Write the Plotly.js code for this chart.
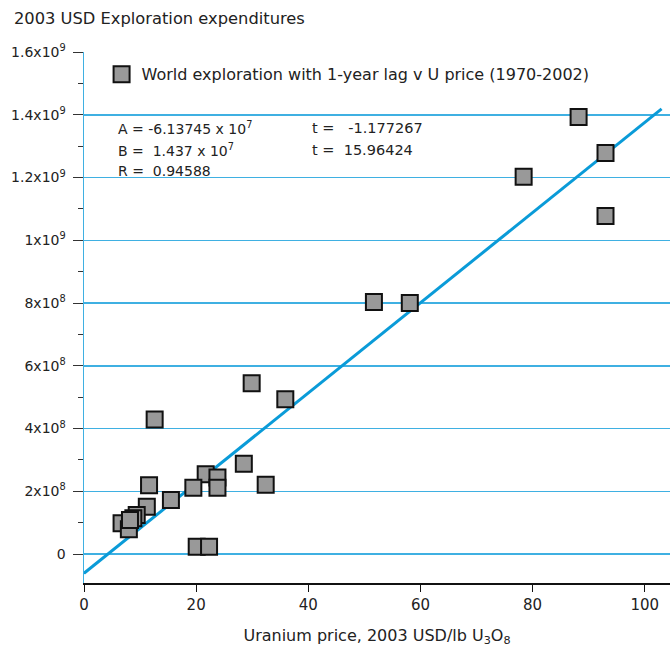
<!DOCTYPE html>
<html><head><meta charset="utf-8">
<script src="https://cdn.plot.ly/plotly-3.0.1.min.js"></script>
<style>html,body{margin:0;padding:0;background:#fff}#chart{width:670px;height:648px}</style>
</head><body><div id="chart"></div>
<script>
// Uranium price (2003 USD/lb U3O8), previous year
const uraniumPrice = [88.2, 93.0, 93.0, 78.4, 51.7, 58.1, 29.9, 35.9, 12.6, 28.5, 32.4, 21.7, 23.8, 23.8, 19.5, 15.5, 11.6, 11.2, 9.4, 8.8, 6.7, 8.0, 8.2, 20.1, 22.3];
// World exploration expenditures (2003 USD)
const explorationSpend = [1.393e9, 1.278e9, 1.077e9, 1.202e9, 0.803e9, 0.800e9, 0.544e9, 0.493e9, 0.429e9, 0.288e9, 0.221e9, 0.254e9, 0.244e9, 0.211e9, 0.211e9, 0.172e9, 0.219e9, 0.151e9, 0.124e9, 0.114e9, 0.098e9, 0.079e9, 0.108e9, 0.023e9, 0.023e9];
// Regression coefficients
const coefA = -6.13745e7;
const coefB = 1.437e7;
const fitX = [0, 103];
const fitY = fitX.map(x => coefA + coefB * x);
const yTickVals = [0, 2e8, 4e8, 6e8, 8e8, 1e9, 1.2e9, 1.4e9, 1.6e9];
const yTickText = ['0', '2x10<sup>8</sup>', '4x10<sup>8</sup>', '6x10<sup>8</sup>', '8x10<sup>8</sup>', '1x10<sup>9</sup>', '1.2x10<sup>9</sup>', '1.4x10<sup>9</sup>', '1.6x10<sup>9</sup>'];
const xTickVals = [0, 20, 40, 60, 80, 100];

const FONT = 'DejaVu Sans, sans-serif';
const BLUE = '#0a9bd8';
const GRID = '#3fb0e2';
const TXT = '#222';

const traces = [
  {x: fitX, y: fitY, mode: 'lines', line: {color: BLUE, width: 3}, showlegend: false, hoverinfo: 'skip'},
  {x: uraniumPrice, y: explorationSpend, mode: 'markers', name: 'World exploration with 1-year lag v U price (1970-2002)',
   marker: {symbol: 'square', size: 16, color: '#999999', line: {color: '#111111', width: 2}}}
];

const ann = (x, y, text, size) => ({xref: 'paper', yref: 'paper', x: x, y: y, xanchor: 'left', yanchor: 'middle', showarrow: false,
  text: text, font: {size: size, family: FONT, color: TXT}});

const layout = {
  width: 670, height: 648,
  margin: {l: 84, r: 0, t: 52, b: 65},
  paper_bgcolor: '#fff', plot_bgcolor: '#fff',
  font: {family: FONT, size: 14, color: TXT},
  showlegend: true,
  legend: {x: 0.03, y: 0.99, xanchor: 'left', yanchor: 'top', bgcolor: 'rgba(0,0,0,0)', font: {size: 16, family: FONT, color: TXT}},
  xaxis: {
    range: [0, 104.5], tickvals: xTickVals, showgrid: false, zeroline: false,
    showline: true, linecolor: '#111', linewidth: 1.5, ticks: 'outside', ticklen: 7, tickcolor: '#111',
    tickfont: {size: 15, family: FONT, color: TXT},
    title: {text: 'Uranium price, 2003 USD/lb U<sub>3</sub>O<sub>8</sub>', font: {size: 16, family: FONT, color: TXT}, standoff: 17}
  },
  yaxis: {
    range: [-0.0924e9, 1.6e9], tickvals: yTickVals, ticktext: yTickText,
    showgrid: true, gridcolor: GRID, gridwidth: 1.5, zeroline: false,
    showline: true, linecolor: GRID, linewidth: 1.5,
    ticks: 'outside', ticklen: 10, tickcolor: '#333', ticklabelstandoff: 4,
    minor: {tickvals: [1e8, 3e8, 5e8, 7e8, 9e8, 1.1e9, 1.3e9, 1.5e9], ticks: 'outside', ticklen: 5, tickcolor: '#333', showgrid: false},
    tickfont: {size: 14, family: FONT, color: TXT}
  },
  annotations: [
    {xref: 'paper', yref: 'paper', x: -0.123, y: 1.064, xanchor: 'left', yanchor: 'middle', showarrow: false,
     text: '2003 USD Exploration expenditures', font: {size: 16.3, family: FONT, color: TXT}},
    ann(0.055, 0.857, 'A = -6.13745 x 10<sup>7</sup>', 14),
    ann(0.055, 0.816, 'B =  1.437 x 10<sup>7</sup>', 14),
    ann(0.055, 0.776, 'R =  0.94588', 14),
    ann(0.385, 0.857, 't =   -1.177267', 14.5),
    ann(0.385, 0.816, 't =  15.96424', 14.5)
  ]
};

Plotly.newPlot('chart', traces, layout, {displayModeBar: false, staticPlot: true});
</script></body></html>
